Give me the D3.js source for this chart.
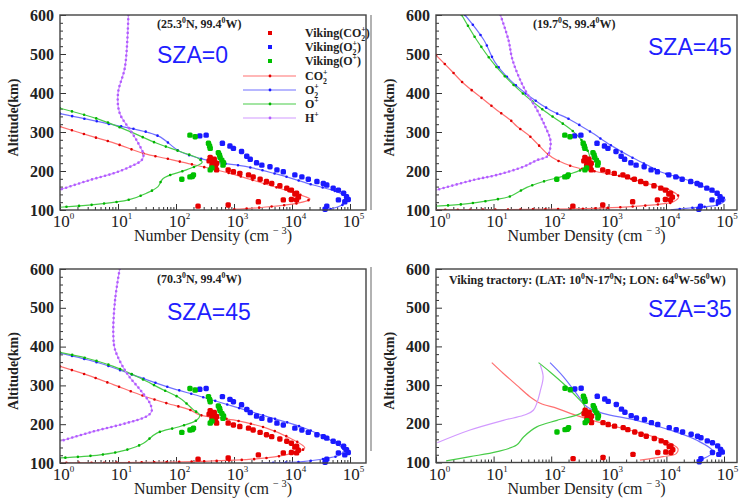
<!DOCTYPE html>
<html>
<head>
<meta charset="utf-8">
<style>
  body { margin: 0; background: #fff; }
  svg { display: block; }
  .tick line { stroke: #333; }
  .domain { display: none; }
</style>
</head>
<body>
<svg width="740" height="503"></svg>
<script src="https://cdn.jsdelivr.net/npm/d3@7/dist/d3.min.js"></script>
<script>
// Viking lander observations, [density cm^-3, altitude km], shown in every panel
var vikingCO2 = [[240,110],[794,113],[2630,121],[7080,126],[9770,127],[12000,126],[12900,133],[11200,141],[12000,143],
  [9770,151],[8130,156],[6170,162],[4470,168],[3630,173],[2820,179],[2140,185],[1780,190],[1260,194],[977,198],
  [794,203],[501,203],[479,212],[417,215],[501,220],[437,224],[372,226],[389,235],[457,230]];
var vikingO2 = [[257,290],[331,292],[631,271],[851,264],[977,258],[1350,250],[1660,238],[1905,230],[2450,221],
  [3020,215],[4170,211],[5500,203],[7080,198],[11200,190],[14800,185],[19100,179],[26900,173],[34700,168],
  [39800,164],[51300,156],[63100,151],[77600,143],[87100,134],[93300,127],[81300,121],[63100,126],[39800,110],[37200,102]];
var vikingO = [[174,292],[214,288],[363,271],[380,264],[389,258],[537,247],[562,241],[575,235],[617,228],
  [661,221],[646,215],[389,203],[417,208],[126,179],[174,185],[200,190],[191,186]];

// model profiles, SZA=0 (25.3N, 99.4W)
var sza0CO2 = [[1,314],[3.3,290],[8.9,271],[27.5,245],[69,232],[117,224],[851,194],[3240,168],[9330,147],[17800,133],
  [20400,128],[12000,117],[3240,107],[1120,102],[700,100]];
var sza0O2 = [[1,347],[6.3,322],[49,290],[117,250],[437,224],[1660,211],[6170,190],[23400,164],[58900,147],[93300,130],
  [81300,117],[58900,107],[39800,100]];
var sza0O = [[1,361],[4.6,333],[16.2,301],[46.8,271],[117,250],[245,232],[282,222],[151,203],[60,181],[49,160],[31,143],
  [15.1,126],[4.6,115],[1,107]];
var sza0H = [[15.1,600],[13.2,467],[10,399],[10.7,348],[16.2,305],[22.4,271],[27.5,241],[25.7,228],[16.2,211],[8.3,194],
  [3.3,177],[1,152]];

// model profiles, SZA=45 (19.7S, 99.4W)
var sza45sCO2 = [[1,497],[1.8,459],[3,425],[5.9,390],[11.5,356],[19.5,331],[25.7,314],[43.7,288],[85,245],[126,228],
  [245,211],[631,198],[1820,185],[4680,168],[11700,151],[16600,134],[13500,121],[7940,115],[2140,108],[550,104],[100,102],[1,100.5]];
var sza45sO2 = [[3.2,600],[6.8,536],[10.5,480],[19.5,433],[43.7,390],[97.7,356],[219,331],[479,301],[1070,267],[2400,237],
  [5370,211],[7940,198],[23400,177],[51300,156],[87100,138],[107000,126],[77600,113],[30200,106],[12000,100.3]];
var sza45sO = [[2.8,600],[5.1,536],[10.5,472],[19.5,429],[38,390],[74.1,356],[145,326],[245,301],[372,271],[479,228],
  [417,211],[191,190],[74.1,173],[38,158],[18.6,134],[10,126],[3,115],[1,110]];
var sza45sH = [[13.2,600],[18.2,536],[21.4,485],[33.1,416],[57.5,356],[79.4,314],[97.7,279],[95.5,254],[85.1,237],
  [57.5,228],[33.1,211],[11.5,190],[4.5,177],[1,151]];

// model profiles, SZA=45 (70.3N, 99.4W)
var sza45nCO2 = [[1,349],[2.9,327],[8.3,302],[24,276],[69.2,254],[174,237],[257,224],[977,211],[3630,190],[9330,164],
  [16600,139],[10500,126],[3630,113],[257,104],[1,100.3]];
var sza45nO2 = [[1,383],[4.9,357],[18.2,327],[69.2,297],[257,272],[977,246],[3630,220],[13800,194],[39800,164],
  [77600,134],[67600,121],[30200,109],[13800,103],[3000,100.3]];
var sza45nO = [[1,385],[2.9,370],[8.3,349],[24,319],[52.5,293],[117,267],[200,237],[257,224],[229,211],[117,194],
  [46.8,177],[27.5,151],[14.1,134],[4.9,121],[1,113]];
var sza45nH = [[10.7,600],[8.9,520],[8.3,434],[8.9,392],[14.1,332],[24,289],[35.5,254],[38,233],[30.9,220],[14.1,203],
  [3.7,181],[1,156]];

// model profiles, SZA=35 (Viking trajectory)
var sza35CO2 = [[9.3,358],[14.8,330],[25.1,300],[42.7,270],[64.6,253],[126,240],[214,227],[794,201],[3020,179],
  [8710,158],[15800,136],[14800,123],[8710,115],[3470,106]];
var sza35O2 = [[95.5,358],[162,322],[275,278],[417,244],[794,227],[3020,209],[11500,184],[33100,158],[64600,128],
  [43700,110],[33100,106]];
var sza35O = [[60.3,358],[95.5,334],[162,304],[275,270],[380,244],[330,228],[126,209],[56.2,192],[33.1,166],[25.1,145],
  [11.5,128],[3.9,115],[1.5,104]];
var sza35H = [[64.6,352],[72.4,322],[66,290],[49,235],[33.1,222],[14.8,209],[3.9,184],[1.05,151]];

var altTicks = [100, 200, 300, 400, 500, 600];
var altMinor = [120, 140, 160, 180, 220, 240, 260, 280, 320, 340, 360, 380, 420, 440, 460, 480, 520, 540, 560, 580];
var densTicks = [1, 10, 100, 1e3, 1e4, 1e5];
var densMinor = [2,3,4,5,6,7,8,9, 20,30,40,50,60,70,80,90, 200,300,400,500,600,700,800,900,
  2e3,3e3,4e3,5e3,6e3,7e3,8e3,9e3, 2e4,3e4,4e4,5e4,6e4,7e4,8e4,9e4];

var col = {
  red: {line: "#ff7070", mark: "#e00000", dot: "#e60000"},
  blue: {line: "#7070ff", mark: "#1c1cff", dot: "#1a1aff"},
  green: {line: "#48cc48", mark: "#00b400", dot: "#00c000"},
  purple: {line: "#d29aff", mark: "#b25cff"}
};

var panels = [
  {x0: 60, x5: 350, right: 366, top: 15, bottom: 210, markers: true, legend: true,
   note: [["(25.3"],["0","sup"],["N, 99.4"],["0","sup"],["W)"]], noteX: 157, noteY: 28,
   sza: "SZA=0", szaX: 157, szaY: 63,
   model: [[sza0CO2,"red"],[sza0O2,"blue"],[sza0O,"green"],[sza0H,"purple"]]},
  {x0: 436, x5: 723.5, right: 737, top: 15, bottom: 210, markers: true,
   note: [["(19.7"],["0","sup"],["S, 99.4"],["0","sup"],["W)"]], noteX: 533, noteY: 28,
   sza: "SZA=45", szaX: 648, szaY: 55,
   model: [[sza45sCO2,"red"],[sza45sO2,"blue"],[sza45sO,"green"],[sza45sH,"purple"]]},
  {x0: 60, x5: 350, right: 366, top: 269, bottom: 463, markers: true,
   note: [["(70.3"],["0","sup"],["N, 99.4"],["0","sup"],["W)"]], noteX: 157, noteY: 283,
   sza: "SZA=45", szaX: 167, szaY: 320,
   model: [[sza45nCO2,"red"],[sza45nO2,"blue"],[sza45nO,"green"],[sza45nH,"purple"]]},
  {x0: 436, x5: 724, right: 737, top: 269, bottom: 462.5, markers: false,
   note: [["Viking tractory: (LAT: 10"],["0","sup"],["N-17"],["0","sup"],["N;  LON: 64"],["0","sup"],["W-56"],["0","sup"],["W)"]],
   noteX: 449, noteY: 284,
   sza: "SZA=35", szaX: 648, szaY: 317,
   model: [[sza35CO2,"red"],[sza35O2,"blue"],[sza35O,"green"],[sza35H,"purple"]]}
];

var serif = "'Liberation Serif', 'DejaVu Serif', serif";
var svg = d3.select("svg");

// text with small super/subscripts; "stack" puts a superscript above the previous subscript
function rich(text, parts, fs) {
  var shift = 0;
  parts.forEach(function(p) {
    var ts = text.append("tspan").text(p[0]);
    var target = 0, small = false;
    if (p[1] === "sub") { target = fs * 0.3; small = true; }
    if (p[1] === "sup" || p[1] === "stack") { target = -fs * 0.42; small = true; }
    if (p[1] === "stack") ts.attr("dx", -fs * 0.33);
    ts.attr("dy", target - shift);
    if (small) ts.attr("font-size", fs * 0.65);
    shift = target;
  });
}

// gray divider on the left of the right-hand panels
svg.append("line").attr("x1", 371).attr("x2", 371).attr("y1", 15).attr("y2", 210).attr("stroke", "#999").attr("stroke-width", 1.5);
svg.append("line").attr("x1", 371).attr("x2", 371).attr("y1", 267).attr("y2", 451).attr("stroke", "#999").attr("stroke-width", 1.5);

panels.forEach(function(p, pi) {
  var x = d3.scaleLog().domain([1, 1e5]).range([p.x0, p.x5]);
  var y = d3.scaleLinear().domain([100, 600]).range([p.bottom, p.top]);
  var g = svg.append("g");

  g.append("clipPath").attr("id", "clip" + pi)
    .append("rect").attr("x", p.x0).attr("y", p.top)
    .attr("width", p.right - p.x0).attr("height", p.bottom - p.top);

  // ticks (inside)
  g.append("g").attr("transform", "translate(0," + p.bottom + ")")
    .call(d3.axisBottom(x).tickValues(densMinor).tickSizeInner(-3).tickSizeOuter(0).tickFormat(""));
  g.append("g").attr("transform", "translate(" + p.x0 + ",0)")
    .call(d3.axisLeft(y).tickValues(altMinor).tickSizeInner(-3).tickSizeOuter(0).tickFormat(""));

  var gx = g.append("g").attr("transform", "translate(0," + p.bottom + ")")
    .call(d3.axisBottom(x).tickValues(densTicks).tickSizeInner(-6).tickSizeOuter(0));
  gx.selectAll(".tick text").each(function(d) {
    var t = d3.select(this).text(null)
      .attr("y", 17).attr("dy", null).attr("dx", 3)
      .attr("font-family", serif).attr("font-size", 17).attr("fill", "#222");
    t.append("tspan").text("10");
    t.append("tspan").attr("dy", -8).attr("font-size", 9).text(Math.round(Math.log10(d)));
  });

  var gy = g.append("g").attr("transform", "translate(" + p.x0 + ",0)")
    .call(d3.axisLeft(y).tickValues(altTicks).tickSizeInner(-6).tickSizeOuter(0).tickPadding(6));
  gy.selectAll(".tick text")
    .attr("font-family", serif).attr("font-size", 16).attr("font-weight", "bold").attr("fill", "#222");

  g.selectAll(".tick line").attr("stroke", "#333");

  // model curves
  var line = d3.line()
    .x(function(d) { return x(d[0]); })
    .y(function(d) { return y(d[1]); })
    .curve(d3.curveCatmullRom.alpha(0.5));

  var curves = g.append("g").attr("clip-path", "url(#clip" + pi + ")");
  p.model.forEach(function(m) {
    curves.append("path").attr("d", line(m[0]))
      .attr("fill", "none").attr("stroke", col[m[1]].line).attr("stroke-width", 1.2);
    if (p.markers) {
      curves.append("path").attr("d", line(m[0]))
        .attr("fill", "none").attr("stroke", col[m[1]].mark).attr("stroke-width", 2.6)
        .attr("stroke-linecap", "round")
        .attr("stroke-dasharray", m[1] === "purple" ? "0 4.5" : "0 12.5");
    }
  });

  // Viking points
  [[vikingCO2, "red"], [vikingO2, "blue"], [vikingO, "green"]].forEach(function(v) {
    g.append("g").selectAll("rect")
      .data(v[0])
      .enter().append("rect")
        .attr("x", function(d) { return x(d[0]) - 2.7; })
        .attr("y", function(d) { return y(d[1]) - 2.7; })
        .attr("width", 5.4).attr("height", 5.4).attr("rx", 1.6)
        .attr("fill", col[v[1]].dot);
  });

  // frame
  g.append("rect").attr("x", p.x0).attr("y", p.top)
    .attr("width", p.right - p.x0).attr("height", p.bottom - p.top)
    .attr("fill", "none").attr("stroke", "#444").attr("stroke-width", 1.4);

  // axis titles
  var xt = g.append("text").attr("x", (p.x0 + p.right) / 2).attr("y", p.bottom + 31)
    .attr("text-anchor", "middle").attr("font-family", serif).attr("font-size", 16).attr("fill", "#222");
  rich(xt, [["Number Density (cm  "], ["\u2212 3", "sup"], [")"]], 16);

  g.append("text")
    .attr("transform", "translate(" + (p.x0 - 42) + "," + ((p.top + p.bottom) / 2 + 5) + ")rotate(-90)")
    .attr("text-anchor", "middle").attr("font-family", serif).attr("font-size", 14)
    .attr("font-weight", "bold").attr("fill", "#222")
    .text("Altitude(km)");

  var nt = g.append("text").attr("x", p.noteX).attr("y", p.noteY)
    .attr("font-family", serif).attr("font-size", 12).attr("font-weight", "bold").attr("fill", "#222");
  rich(nt, p.note, 12);

  g.append("text").attr("x", p.szaX).attr("y", p.szaY)
    .attr("font-family", "'Liberation Sans', Arial, sans-serif").attr("font-size", 23)
    .attr("fill", "#1f1fff").text(p.sza);

  if (p.legend) {
    var lx = 270, tx = 305;
    var dots = [["red", 33, [["Viking(CO"], ["2", "sub"], ["+", "stack"], [")"]]],
                ["blue", 47, [["Viking(O"], ["2", "sub"], ["+", "stack"], [")"]]],
                ["green", 61, [["Viking(O"], ["+", "sup"], [")"]]]];
    dots.forEach(function(d) {
      g.append("rect").attr("x", lx - 2).attr("y", d[1] - 2).attr("width", 4).attr("height", 4).attr("fill", col[d[0]].dot);
      var t = g.append("text").attr("x", tx).attr("y", d[1] + 4)
        .attr("font-family", serif).attr("font-size", 12).attr("font-weight", "bold").attr("fill", "#222");
      rich(t, d[2], 12);
    });
    var lines = [["red", 76, [["CO"], ["2", "sub"], ["+", "stack"]]],
                 ["blue", 90, [["O"], ["2", "sub"], ["+", "stack"]]],
                 ["green", 104, [["O"], ["+", "sup"]]],
                 ["purple", 118, [["H"], ["+", "sup"]]]];
    lines.forEach(function(d) {
      g.append("line").attr("x1", 243).attr("x2", 296).attr("y1", d[1]).attr("y2", d[1])
        .attr("stroke", col[d[0]].line).attr("stroke-width", 1.2);
      g.append("circle").attr("cx", lx).attr("cy", d[1]).attr("r", 1.4).attr("fill", col[d[0]].mark);
      var t = g.append("text").attr("x", tx).attr("y", d[1] + 4)
        .attr("font-family", serif).attr("font-size", 12).attr("font-weight", "bold").attr("fill", "#222");
      rich(t, d[2], 12);
    });
  }
});
</script>
</body>
</html>
